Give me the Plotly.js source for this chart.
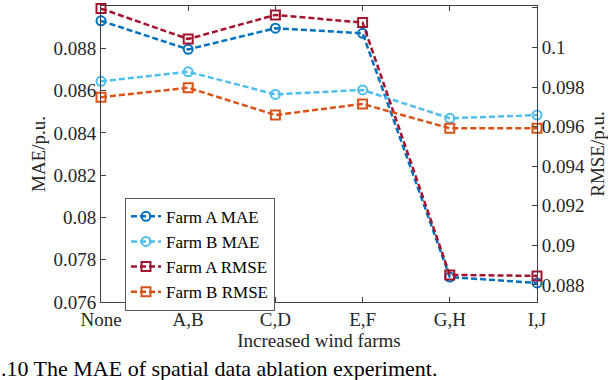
<!DOCTYPE html>
<html>
<head>
<meta charset="utf-8">
<script src="https://cdn.plot.ly/plotly-3.0.1.min.js"></script>
<style>
  html, body { margin: 0; padding: 0; background: #fff; }
  #chart { width: 608px; height: 380px; }
</style>
</head>
<body>
<div id="chart"></div>
<script>
// ------------------- Data -------------------
var categories = ['None', 'A,B', 'C,D', 'E,F', 'G,H', 'I,J'];

var farmA_mae  = [0.0893, 0.08795, 0.08895, 0.08871, 0.07718, 0.07690];
var farmB_mae  = [0.08644, 0.08689, 0.08582, 0.08603, 0.08469, 0.08484];
var farmA_rmse = [0.10197, 0.10043, 0.10165, 0.10126, 0.08851, 0.08846];
var farmB_rmse = [0.09749, 0.09797, 0.09659, 0.09715, 0.09592, 0.09592];

var maeTicks  = [0.076, 0.078, 0.08, 0.082, 0.084, 0.086, 0.088, 0.09];
var maeLabels = ['0.076', '0.078', '0.08', '0.082', '0.084', '0.086', '0.088', '0.09'];
var rmseTicks  = [0.088, 0.09, 0.092, 0.094, 0.096, 0.098, 0.1, 0.102];
var rmseLabels = ['0.088', '0.09', '0.092', '0.094', '0.096', '0.098', '0.1', '0.102'];

// ------------------- Helpers -------------------
var serif = 'Liberation Serif';
var axisColor = '#404040';
var textColor = '#262626';

function makeTrace(name, y, color, symbol, yaxis) {
    return {
        x: categories,
        y: y,
        name: name,
        yaxis: yaxis,
        type: 'scatter',
        mode: 'lines+markers',
        line: { color: color, width: 2.5, dash: '6px,3px' },
        marker: {
            symbol: symbol,
            size: 9,
            color: color,
            line: { color: color, width: 2 }
        },
        cliponaxis: false
    };
}

function axisFont() { return { family: serif, size: 19, color: textColor }; }

var traces = [
    makeTrace('Farm A MAE', farmA_mae, '#0072BD', 'circle-open', 'y'),
    makeTrace('Farm B MAE', farmB_mae, '#4DBEEE', 'circle-open', 'y'),
    makeTrace('Farm A RMSE', farmA_rmse, '#A2142F', 'square-open', 'y2'),
    makeTrace('Farm B RMSE', farmB_rmse, '#D95319', 'square-open', 'y2')
];

var layout = {
    width: 608,
    height: 380,
    margin: { l: 101, r: 71, t: 6, b: 78 },
    paper_bgcolor: '#fff',
    plot_bgcolor: '#fff',
    font: { family: serif, size: 19, color: textColor },
    showlegend: true,
    legend: {
        x: 0.055, y: 0.352, xanchor: 'left', yanchor: 'top',
        bgcolor: '#fff',
        bordercolor: '#555',
        borderwidth: 1,
        font: { family: serif, size: 17, color: '#000' },
        tracegroupgap: 0,
        itemwidth: 30
    },
    xaxis: {
        type: 'category',
        range: [0, 5],
        showline: true,
        linecolor: axisColor,
        linewidth: 1,
        mirror: 'ticks',
        ticks: 'inside',
        ticklen: 5,
        tickcolor: axisColor,
        showgrid: false,
        zeroline: false,
        tickfont: axisFont(),
        title: { text: 'Increased wind farms', font: axisFont(), standoff: 1 }
    },
    yaxis: {
        range: [0.076, 0.090001],
        tickvals: maeTicks,
        ticktext: maeLabels,
        showline: true,
        linecolor: axisColor,
        linewidth: 1,
        ticks: 'inside',
        ticklen: 5,
        tickcolor: axisColor,
        showgrid: false,
        zeroline: false,
        tickfont: axisFont(),
        title: { text: 'MAE/p.u.', font: axisFont(), standoff: 2 }
    },
    yaxis2: {
        overlaying: 'y',
        side: 'right',
        range: [0.08714, 0.1021],
        tickvals: rmseTicks,
        ticktext: rmseLabels,
        showline: true,
        linecolor: axisColor,
        linewidth: 1,
        ticks: 'inside',
        ticklen: 5,
        tickcolor: axisColor,
        showgrid: false,
        zeroline: false,
        tickfont: axisFont(),
        title: { text: 'RMSE/p.u.', font: axisFont(), standoff: 8 }
    },
    annotations: [{
        text: '.10 The MAE of spatial data ablation experiment.',
        xref: 'paper', yref: 'paper',
        x: -0.235, y: -0.223,
        xanchor: 'left', yanchor: 'middle',
        showarrow: false,
        font: { family: serif, size: 22, color: '#000' }
    }]
};

Plotly.newPlot('chart', traces, layout, { displayModeBar: false, staticPlot: true });
</script>
</body>
</html>
